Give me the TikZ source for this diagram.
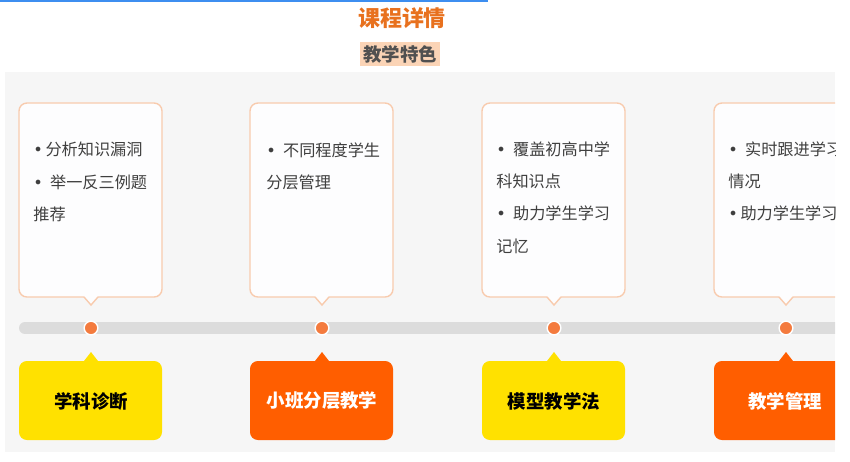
\documentclass[tikz,border=0pt]{standalone}
\usepackage{fontspec}
\setmainfont{Noto Sans CJK SC}
\newfontfamily\cjk{Noto Sans CJK SC}
\newfontfamily\dvsans{DejaVu Sans}
\newcommand{\bul}{{\dvsans •}}
\begin{document}
\begin{tikzpicture}[x=0.02cm,y=-0.02cm,
  cardtext/.style={anchor=north west,align=left,text=textgray,inner sep=0pt,font=\cjk\fontsize{9.2}{18.4}\selectfont},
  tag/.style={font=\cjk\bfseries\fontsize{10.5}{12}\selectfont,inner sep=0pt},
  dot/.style={circle,fill=dotorange,draw=white,line width=0.8pt,minimum size=7.8pt,inner sep=0pt}]
  \definecolor{blueline}{HTML}{3D8EF0}
  \definecolor{titleorange}{HTML}{E8711E}
  \definecolor{subgray}{HTML}{505050}
  \definecolor{peach}{HTML}{FBD4B6}
  \definecolor{panel}{HTML}{F6F6F6}
  \definecolor{bar}{HTML}{DCDCDC}
  \definecolor{dotorange}{HTML}{F47B3E}
  \definecolor{cardedge}{HTML}{F8CBAE}
  \definecolor{cardfill}{HTML}{FDFDFE}
  \definecolor{textgray}{HTML}{3F3F3F}
  \definecolor{tagyellow}{HTML}{FFE100}
  \definecolor{tagorange}{HTML}{FF5E00}
  \useasboundingbox (0,0) rectangle (850,461);
  % header
  \draw [blueline,line width=1.2pt] (0,1) -- (488,1);
  \node [text=titleorange,font=\cjk\bfseries\fontsize{12.5}{14}\selectfont,inner sep=0pt] (title) at (402,18) {课程详情};
  \node [fill=peach,text=subgray,font=\cjk\bfseries\fontsize{10.5}{12}\selectfont,inner sep=1.5pt] (sub) at (400,54) {教学特色};
  % panel
  \fill [panel] (5,72) rectangle (835,452);
  \begin{scope}
   \clip (5,72) rectangle (835,452);
   \draw [bar,line width=6.8pt,line cap=round] (25,328) -- (860,328);
   \foreach \c in {91,322,554,786} {
    \draw [cardedge,fill=cardfill,line width=0.8pt] (\c,305) -- ({\c-7},297) -- ({\c-20},297)
     [rounded corners=4.5pt] -- ({\c-72},297) -- ({\c-72},103) -- ({\c+71},103) -- ({\c+71},297)
     -- ({\c+20},297) [sharp corners] -- ({\c+7},297) -- cycle;
   }
   \foreach \c/\col in {91/tagyellow,322/tagorange,554/tagyellow,786/tagorange} {
    \fill [\col] (\c,352) -- ({\c+7},361) -- ({\c+20},361)
     [rounded corners=4.5pt] -- ({\c+71},361) -- ({\c+71},440) -- ({\c-72},440) -- ({\c-72},361)
     -- ({\c-20},361) [sharp corners] -- ({\c-7},361) -- cycle;
   }
   \node [dot] (d1) at (91,328) {};
   \node [dot] (d2) at (322,328) {};
   \node [dot] (d3) at (554,328) {};
   \node [dot] (d4) at (786,328) {};
   \node [cardtext] (t1) at (33,142) {\bul\,分析知识漏洞\\\bul\ \ 举一反三例题\\推荐};
   \node [cardtext] (t2) at (266,142) {\bul\ \ 不同程度学生\\分层管理};
   \node [cardtext] (t3) at (496,141) {\bul\ \ 覆盖初高中学\\科知识点\\\bul\ \ 助力学生学习\\记忆};
   \node [cardtext] (t4) at (728,141) {\bul\ \ 实时跟进学习\\情况\\\bul\,助力学生学习};
   \node [tag,text=black] (k1) at (91,401) {学科诊断};
   \node [tag,text=white] (k2) at (322,401) {小班分层教学};
   \node [tag,text=black] (k3) at (554,401) {模型教学法};
   \node [tag,text=white] (k4) at (785,401) {教学管理};
  \end{scope}
\end{tikzpicture}
\end{document}
